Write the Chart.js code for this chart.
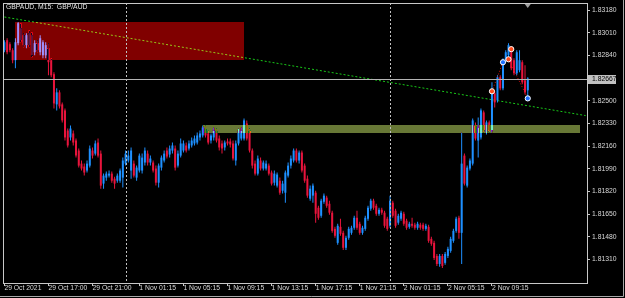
<!DOCTYPE html>
<html>
<head>
<meta charset="utf-8">
<script src="https://cdn.jsdelivr.net/npm/chart.js@4.4.1/dist/chart.umd.min.js"></script>
<style>
html,body{margin:0;padding:0;background:#000;}
canvas{display:block;}
</style>
</head>
<body>
<canvas id="c" width="625" height="298"></canvas>
<script>
// ---------- DATA ----------
const symbolTitle = "GBPAUD, M15:  GBP/AUD";

const open = [
1.82879,1.82954,1.82924,1.82879,1.82804,1.82932,1.83044,1.82992,1.82917,1.83007,
1.82992,1.82864,1.82932,1.82864,1.82841,1.82841,1.82894,1.82804,1.82699,1.82473,
1.82563,1.82473,1.82428,1.82277,1.82225,1.82255,1.82202,1.82127,1.82029,1.82007,
1.81977,1.82014,1.82127,1.82104,1.82187,1.82104,1.81879,1.81924,1.81939,1.81954,
1.81916,1.81901,1.81901,1.81924,1.82029,1.82052,1.81977,1.82029,1.81924,1.81977,
1.81977,1.82037,1.82104,1.82037,1.82037,1.81992,1.81886,1.81999,1.82052,1.82127,
1.82097,1.82127,1.82142,1.82014,1.82089,1.82127,1.82165,1.82142,1.82165,1.82180,
1.82187,1.82225,1.82240,1.82292,1.82255,1.82202,1.82225,1.82277,1.82217,1.82180,
1.82150,1.82195,1.82195,1.82180,1.82052,1.82180,1.82217,1.82217,1.82330,1.82277,
1.82127,1.82029,1.81954,1.82052,1.81992,1.81992,1.82014,1.81962,1.81886,1.81864,
1.81901,1.81826,1.81811,1.81939,1.82014,1.82052,1.82127,1.82052,1.82112,1.82014,
1.81916,1.81766,1.81789,1.81811,1.81698,1.81638,1.81743,1.81774,1.81728,1.81661,
1.81540,1.81435,1.81555,1.81510,1.81398,1.81473,1.81510,1.81548,1.81623,1.81578,
1.81510,1.81540,1.81616,1.81691,1.81751,1.81713,1.81653,1.81683,1.81661,1.81616,
1.81563,1.81736,1.81676,1.81586,1.81616,1.81653,1.81601,1.81555,1.81578,1.81571,
1.81548,1.81571,1.81571,1.81540,1.81555,1.81465,1.81435,1.81337,1.81277,1.81337,
1.81285,1.81337,1.81375,1.81450,1.81525,1.81623,1.81510,1.82089,1.81864,1.81992,
1.82029,1.82315,1.82202,1.82225,1.82413,1.82262,1.82338,1.82277,1.82556,1.82503,
1.82676,1.82593,1.82804,1.82841,1.82894,1.82804,1.82706,1.82729,1.82789,1.82653,
1.82578
];
const high = [
1.82954,1.82969,1.82939,1.82894,1.82969,1.83090,1.83082,1.83007,1.83007,1.83029,
1.83014,1.82954,1.82954,1.82992,1.82954,1.82939,1.82932,1.82819,1.82714,1.82593,
1.82578,1.82488,1.82443,1.82292,1.82315,1.82277,1.82217,1.82142,1.82052,1.82029,
1.82052,1.82165,1.82150,1.82202,1.82217,1.82127,1.81954,1.81969,1.81977,1.81969,
1.81931,1.81954,1.81992,1.82074,1.82127,1.82127,1.82150,1.82052,1.82014,1.82104,
1.82104,1.82150,1.82127,1.82089,1.82052,1.82014,1.82029,1.82089,1.82127,1.82150,
1.82165,1.82187,1.82165,1.82127,1.82217,1.82202,1.82187,1.82202,1.82225,1.82240,
1.82262,1.82277,1.82315,1.82315,1.82277,1.82255,1.82300,1.82292,1.82240,1.82202,
1.82202,1.82217,1.82217,1.82202,1.82202,1.82292,1.82300,1.82368,1.82353,1.82292,
1.82142,1.82052,1.82089,1.82074,1.82052,1.82052,1.82029,1.81977,1.81977,1.81962,
1.81924,1.81901,1.81977,1.82037,1.82089,1.82142,1.82142,1.82127,1.82127,1.82029,
1.81939,1.81864,1.81879,1.81826,1.81713,1.81766,1.81804,1.81789,1.81751,1.81676,
1.81555,1.81578,1.81616,1.81525,1.81488,1.81555,1.81563,1.81638,1.81676,1.81593,
1.81563,1.81638,1.81713,1.81766,1.81766,1.81728,1.81698,1.81698,1.81676,1.81631,
1.81789,1.81751,1.81691,1.81653,1.81676,1.81668,1.81616,1.81593,1.81623,1.81586,
1.81593,1.81586,1.81586,1.81578,1.81571,1.81480,1.81450,1.81352,1.81352,1.81352,
1.81367,1.81405,1.81480,1.81540,1.81631,1.81638,1.82262,1.82104,1.82014,1.82067,
1.82368,1.82338,1.82375,1.82443,1.82428,1.82353,1.82353,1.82638,1.82571,1.82691,
1.82691,1.82819,1.82879,1.82932,1.82909,1.82819,1.82879,1.82879,1.82804,1.82766,
1.82676
];
const low = [
1.82864,1.82849,1.82864,1.82781,1.82744,1.82917,1.82939,1.82902,1.82894,1.82902,
1.82826,1.82841,1.82864,1.82841,1.82819,1.82819,1.82691,1.82676,1.82443,1.82428,
1.82443,1.82338,1.82202,1.82150,1.82202,1.82165,1.82074,1.81999,1.81977,1.81939,
1.81962,1.81999,1.82067,1.82089,1.82074,1.81841,1.81841,1.81901,1.81924,1.81886,
1.81841,1.81886,1.81886,1.81849,1.82014,1.82037,1.81916,1.81924,1.81901,1.81962,
1.81954,1.82014,1.82014,1.82014,1.81962,1.81864,1.81849,1.81977,1.82037,1.82067,
1.82074,1.82104,1.81977,1.81999,1.82074,1.82112,1.82112,1.82127,1.82150,1.82165,
1.82172,1.82202,1.82225,1.82225,1.82172,1.82180,1.82202,1.82187,1.82127,1.82104,
1.82127,1.82165,1.82150,1.82052,1.82014,1.82165,1.82202,1.82202,1.82202,1.82112,
1.81992,1.81939,1.81939,1.81977,1.81977,1.81977,1.81939,1.81864,1.81864,1.81849,
1.81796,1.81804,1.81736,1.81924,1.81992,1.82037,1.82037,1.82029,1.81962,1.81886,
1.81774,1.81751,1.81736,1.81586,1.81608,1.81623,1.81728,1.81698,1.81646,1.81510,
1.81473,1.81420,1.81488,1.81382,1.81382,1.81458,1.81495,1.81533,1.81533,1.81495,
1.81495,1.81525,1.81601,1.81676,1.81683,1.81638,1.81638,1.81646,1.81548,1.81525,
1.81548,1.81623,1.81548,1.81571,1.81601,1.81563,1.81533,1.81540,1.81548,1.81533,
1.81533,1.81533,1.81525,1.81525,1.81435,1.81413,1.81307,1.81262,1.81255,1.81247,
1.81270,1.81322,1.81360,1.81435,1.81510,1.81465,1.81277,1.81864,1.81849,1.81977,
1.82014,1.82202,1.82074,1.82210,1.82262,1.82247,1.82262,1.82262,1.82450,1.82488,
1.82578,1.82578,1.82789,1.82826,1.82729,1.82691,1.82691,1.82714,1.82623,1.82548,
1.82518
];
const close = [
1.82939,1.82864,1.82879,1.82804,1.82939,1.83082,1.82954,1.82917,1.82992,1.82917,
1.82841,1.82932,1.82879,1.82969,1.82939,1.82917,1.82789,1.82691,1.82480,1.82563,
1.82458,1.82353,1.82225,1.82165,1.82292,1.82187,1.82089,1.82014,1.81992,1.81962,
1.82029,1.82142,1.82089,1.82180,1.82089,1.81864,1.81939,1.81954,1.81954,1.81901,
1.81879,1.81939,1.81977,1.82052,1.82104,1.82089,1.82127,1.81939,1.81999,1.82089,
1.82074,1.82127,1.82037,1.82067,1.81977,1.81886,1.82014,1.82074,1.82104,1.82082,
1.82142,1.82165,1.81999,1.82104,1.82180,1.82180,1.82127,1.82180,1.82202,1.82217,
1.82240,1.82255,1.82300,1.82240,1.82187,1.82240,1.82277,1.82202,1.82150,1.82142,
1.82187,1.82180,1.82172,1.82067,1.82180,1.82277,1.82277,1.82353,1.82217,1.82127,
1.82014,1.81954,1.82067,1.81992,1.82037,1.82029,1.81954,1.81879,1.81954,1.81947,
1.81811,1.81879,1.81962,1.82014,1.82067,1.82127,1.82052,1.82112,1.81977,1.81901,
1.81789,1.81841,1.81864,1.81653,1.81623,1.81751,1.81789,1.81713,1.81661,1.81525,
1.81488,1.81563,1.81503,1.81398,1.81473,1.81540,1.81548,1.81623,1.81548,1.81510,
1.81548,1.81623,1.81698,1.81751,1.81698,1.81653,1.81683,1.81661,1.81563,1.81540,
1.81751,1.81638,1.81563,1.81638,1.81661,1.81578,1.81548,1.81578,1.81563,1.81548,
1.81578,1.81548,1.81540,1.81563,1.81450,1.81428,1.81322,1.81277,1.81337,1.81262,
1.81352,1.81390,1.81465,1.81525,1.81616,1.81510,1.82029,1.81879,1.81999,1.82052,
1.82353,1.82217,1.82300,1.82428,1.82277,1.82338,1.82277,1.82563,1.82488,1.82676,
1.82593,1.82804,1.82864,1.82917,1.82744,1.82706,1.82864,1.82804,1.82638,1.82563,
1.82667
];
const currentPrice = 1.82667;

// price axis
const yMin = 1.81134, yMax = 1.83233;
const priceTicks = [1.83180,1.83010,1.82840,1.82500,1.82330,1.82160,1.81990,1.81820,1.81650,1.81480,1.81310];

// time axis tick labels (bar time -> shown text)
const tickTimes  = ["29 Oct 13:00","29 Oct 17:00","29 Oct 21:00","1 Nov 01:15","1 Nov 05:15","1 Nov 09:15","1 Nov 13:15","1 Nov 17:15","1 Nov 21:15","2 Nov 01:15","2 Nov 05:15","2 Nov 09:15"];
const tickLabels = ["29 Oct 2021","29 Oct 17:00","29 Oct 21:00","1 Nov 01:15","1 Nov 05:15","1 Nov 09:15","1 Nov 13:15","1 Nov 17:15","1 Nov 21:15","2 Nov 01:15","2 Nov 05:15","2 Nov 09:15"];
const separatorTimes = ["1 Nov 00:00","2 Nov 00:00"];

// drawn objects
const trendLine = {from:"29 Oct 13:00", fromPrice:1.83128, to:"2 Nov 17:45", toPrice:1.82389};
const supplyZone = {from:"29 Oct 14:00", to:"1 Nov 10:45", top:1.83090, bottom:1.82804};
const demandZone = {from:"1 Nov 07:00", to:"2 Nov 17:15", top:1.82319, bottom:1.82255};
const tradeOpens  = [{t:"2 Nov 09:15", p:1.82571},{t:"2 Nov 10:45", p:1.82811},{t:"2 Nov 11:00", p:1.82887}];
const tradeCloses = [{t:"2 Nov 10:15", p:1.82789},{t:"2 Nov 12:30", p:1.82518}];
const tradeLinks  = [[{t:"2 Nov 09:15", p:1.82571},{t:"2 Nov 10:15", p:1.82789}],[{t:"2 Nov 10:45", p:1.82811},{t:"2 Nov 12:30", p:1.82518}]];

// ---------- CATEGORIES (M15 bars, weekend skipped) ----------
const sessions = [["29 Oct",52],["1 Nov",0],["2 Nov",0]];
const totalSlots = 212;
const categories = [];
for (const [day, q0] of sessions) {
  for (let q = q0; q < 96 && categories.length < totalSlots; q++) {
    const h = String(Math.floor(q/4)).padStart(2,'0');
    const m = String((q%4)*15).padStart(2,'0');
    categories.push(day + " " + h + ":" + m);
  }
}

const UP = '#1e90ff', DOWN = '#e8143c';
const barColors = categories.map((_, i) => i < close.length ? (close[i] >= open[i] ? UP : DOWN) : UP);
const wickData = categories.map((_, i) => i < close.length ? [low[i], high[i]] : null);
const bodyData = categories.map((_, i) => i < close.length ? [open[i], close[i]] : null);

// ---------- PLUGIN ----------
function xorRect(ctx, x1, y1, x2, y2, rgb) {
  const X = Math.round(Math.min(x1, x2)), Y = Math.round(Math.min(y1, y2));
  const W = Math.round(Math.max(x1, x2)) - X, H = Math.round(Math.max(y1, y2)) - Y;
  if (W <= 0 || H <= 0) return;
  const img = ctx.getImageData(X, Y, W, H);
  const d = img.data;
  for (let k = 0; k < d.length; k += 4) {
    d[k] ^= rgb[0]; d[k+1] ^= rgb[1]; d[k+2] ^= rgb[2]; d[k+3] = 255;
  }
  ctx.putImageData(img, X, Y);
}

const mt4 = {
  id: 'mt4',
  beforeDraw(chart) {
    const c = chart.ctx;
    c.save(); c.fillStyle = '#000'; c.fillRect(0, 0, chart.width, chart.height); c.restore();
  },
  afterDatasetsDraw(chart) {
    const c = chart.ctx, a = chart.chartArea, xs = chart.scales.x, ys = chart.scales.y;
    const px = t => xs.getPixelForValue(categories.indexOf(t));
    xorRect(c, px(supplyZone.from), ys.getPixelForValue(supplyZone.top), px(supplyZone.to), ys.getPixelForValue(supplyZone.bottom), [128, 0, 0]);
    xorRect(c, px(demandZone.from), ys.getPixelForValue(demandZone.top), px(demandZone.to), ys.getPixelForValue(demandZone.bottom), [104, 120, 54]);
    c.save();
    c.strokeStyle = '#c0c0c0'; c.lineWidth = 1; c.setLineDash([2, 2]);
    for (const t of separatorTimes) {
      const x = Math.round(px(t)) + 0.5;
      c.beginPath(); c.moveTo(x, a.top); c.lineTo(x, a.bottom); c.stroke();
    }
    c.setLineDash([]);
    const yb = Math.round(ys.getPixelForValue(currentPrice)) + 0.5;
    c.strokeStyle = '#b4b4b4';
    c.beginPath(); c.moveTo(a.left, yb); c.lineTo(a.right, yb); c.stroke();
    c.restore();
  },
  afterDraw(chart) {
    const c = chart.ctx, a = chart.chartArea, xs = chart.scales.x, ys = chart.scales.y;
    c.save();
    c.strokeStyle = '#c8c8c8'; c.lineWidth = 1;
    c.strokeRect(a.left + 0.5, a.top + 0.5, a.right - a.left, a.bottom - a.top);
    c.strokeStyle = '#a8a8a8';
    c.beginPath(); c.moveTo(623.5, 0); c.lineTo(623.5, 296.5); c.lineTo(0, 296.5); c.stroke();
    c.fillStyle = '#e6e6e6'; c.font = '6.8px "Liberation Sans"'; c.textBaseline = 'top'; c.textAlign = 'left';
    c.fillText(symbolTitle, 6, 4);
    const xl = xs.getPixelForValue(close.length - 1);
    c.fillStyle = '#a0a0a0';
    c.beginPath(); c.moveTo(xl - 3, a.top + 1); c.lineTo(xl + 3, a.top + 1); c.lineTo(xl, a.top + 5); c.closePath(); c.fill();
    const yb = Math.round(ys.getPixelForValue(currentPrice));
    c.fillStyle = '#c0c0c0';
    c.fillRect(a.right + 1, yb - 4, 28, 9);
    c.fillStyle = '#000'; c.textBaseline = 'middle';
    c.fillText(currentPrice.toFixed(5), a.right + 5, yb + 0.5);
    c.restore();
  }
};

// ---------- CHART ----------
const font = {family: '"Liberation Sans", Arial, sans-serif', size: 6.8};
new Chart(document.getElementById('c'), {
  type: 'bar',
  data: {
    labels: categories,
    datasets: [
      {
        type: 'line', label: 'trade marks open',
        data: tradeOpens.map(o => ({x: o.t, y: o.p})),
        showLine: false, pointRadius: 2.6, pointBackgroundColor: '#ff4a1a', pointBorderColor: '#ffffff', pointBorderWidth: 1, order: 0
      },
      {
        type: 'line', label: 'trade marks close',
        data: tradeCloses.map(o => ({x: o.t, y: o.p})),
        showLine: false, pointRadius: 2.6, pointBackgroundColor: '#1e6fff', pointBorderColor: '#ffffff', pointBorderWidth: 1, order: 0
      },
      ...tradeLinks.map(l => ({
        type: 'line', label: 'trade link',
        data: l.map(o => ({x: o.t, y: o.p})),
        borderColor: '#e01010', borderWidth: 1, borderDash: [1, 2], pointRadius: 0, order: 1
      })),
      {
        label: 'body', data: bodyData, backgroundColor: barColors, barThickness: 2,
        grouped: false, inflateAmount: 0, minBarLength: 1, order: 2
      },
      {
        label: 'wick', data: wickData, backgroundColor: barColors, barThickness: 1,
        grouped: false, inflateAmount: 0, order: 3
      },
      {
        type: 'line', label: 'trend',
        data: [{x: trendLine.from, y: trendLine.fromPrice}, {x: trendLine.to, y: trendLine.toPrice}],
        borderColor: '#18c818', borderWidth: 1, borderDash: [2, 2], pointRadius: 0, order: 4
      }
    ]
  },
  options: {
    responsive: false,
    animation: false,
    layout: {autoPadding: false, padding: {left: 3, top: 3, right: 0, bottom: 0}},
    plugins: {legend: {display: false}, tooltip: {enabled: false}},
    scales: {
      x: {
        type: 'category', offset: true,
        grid: {
          display: true, offset: false, drawOnChartArea: false, drawTicks: true, tickLength: 3,
          color: ctx => tickTimes.includes(categories[ctx.index]) ? '#c8c8c8' : 'rgba(0,0,0,0)'
        },
        border: {display: false},
        ticks: {
          autoSkip: false, maxRotation: 0, minRotation: 0, align: 'start', padding: -2,
          color: '#d8d8d8', font: font,
          callback: (v, i) => { const k = tickTimes.indexOf(categories[i]); return k >= 0 ? tickLabels[k] : ''; }
        },
        afterFit: s => { s.height = 15; s.paddingLeft = 0; s.paddingRight = 0; }
      },
      y: {
        type: 'linear', position: 'right', min: yMin, max: yMax,
        grid: {display: true, drawOnChartArea: false, drawTicks: true, tickLength: 3, color: '#c8c8c8'},
        border: {display: false},
        ticks: {color: '#d8d8d8', padding: 2, font: font, callback: v => Number(v).toFixed(5)},
        afterBuildTicks: s => { s.ticks = priceTicks.map(v => ({value: v})); },
        afterFit: s => { s.width = 38; s.paddingTop = 0; s.paddingBottom = 0; }
      }
    }
  },
  plugins: [mt4]
});
</script>
</body>
</html>
